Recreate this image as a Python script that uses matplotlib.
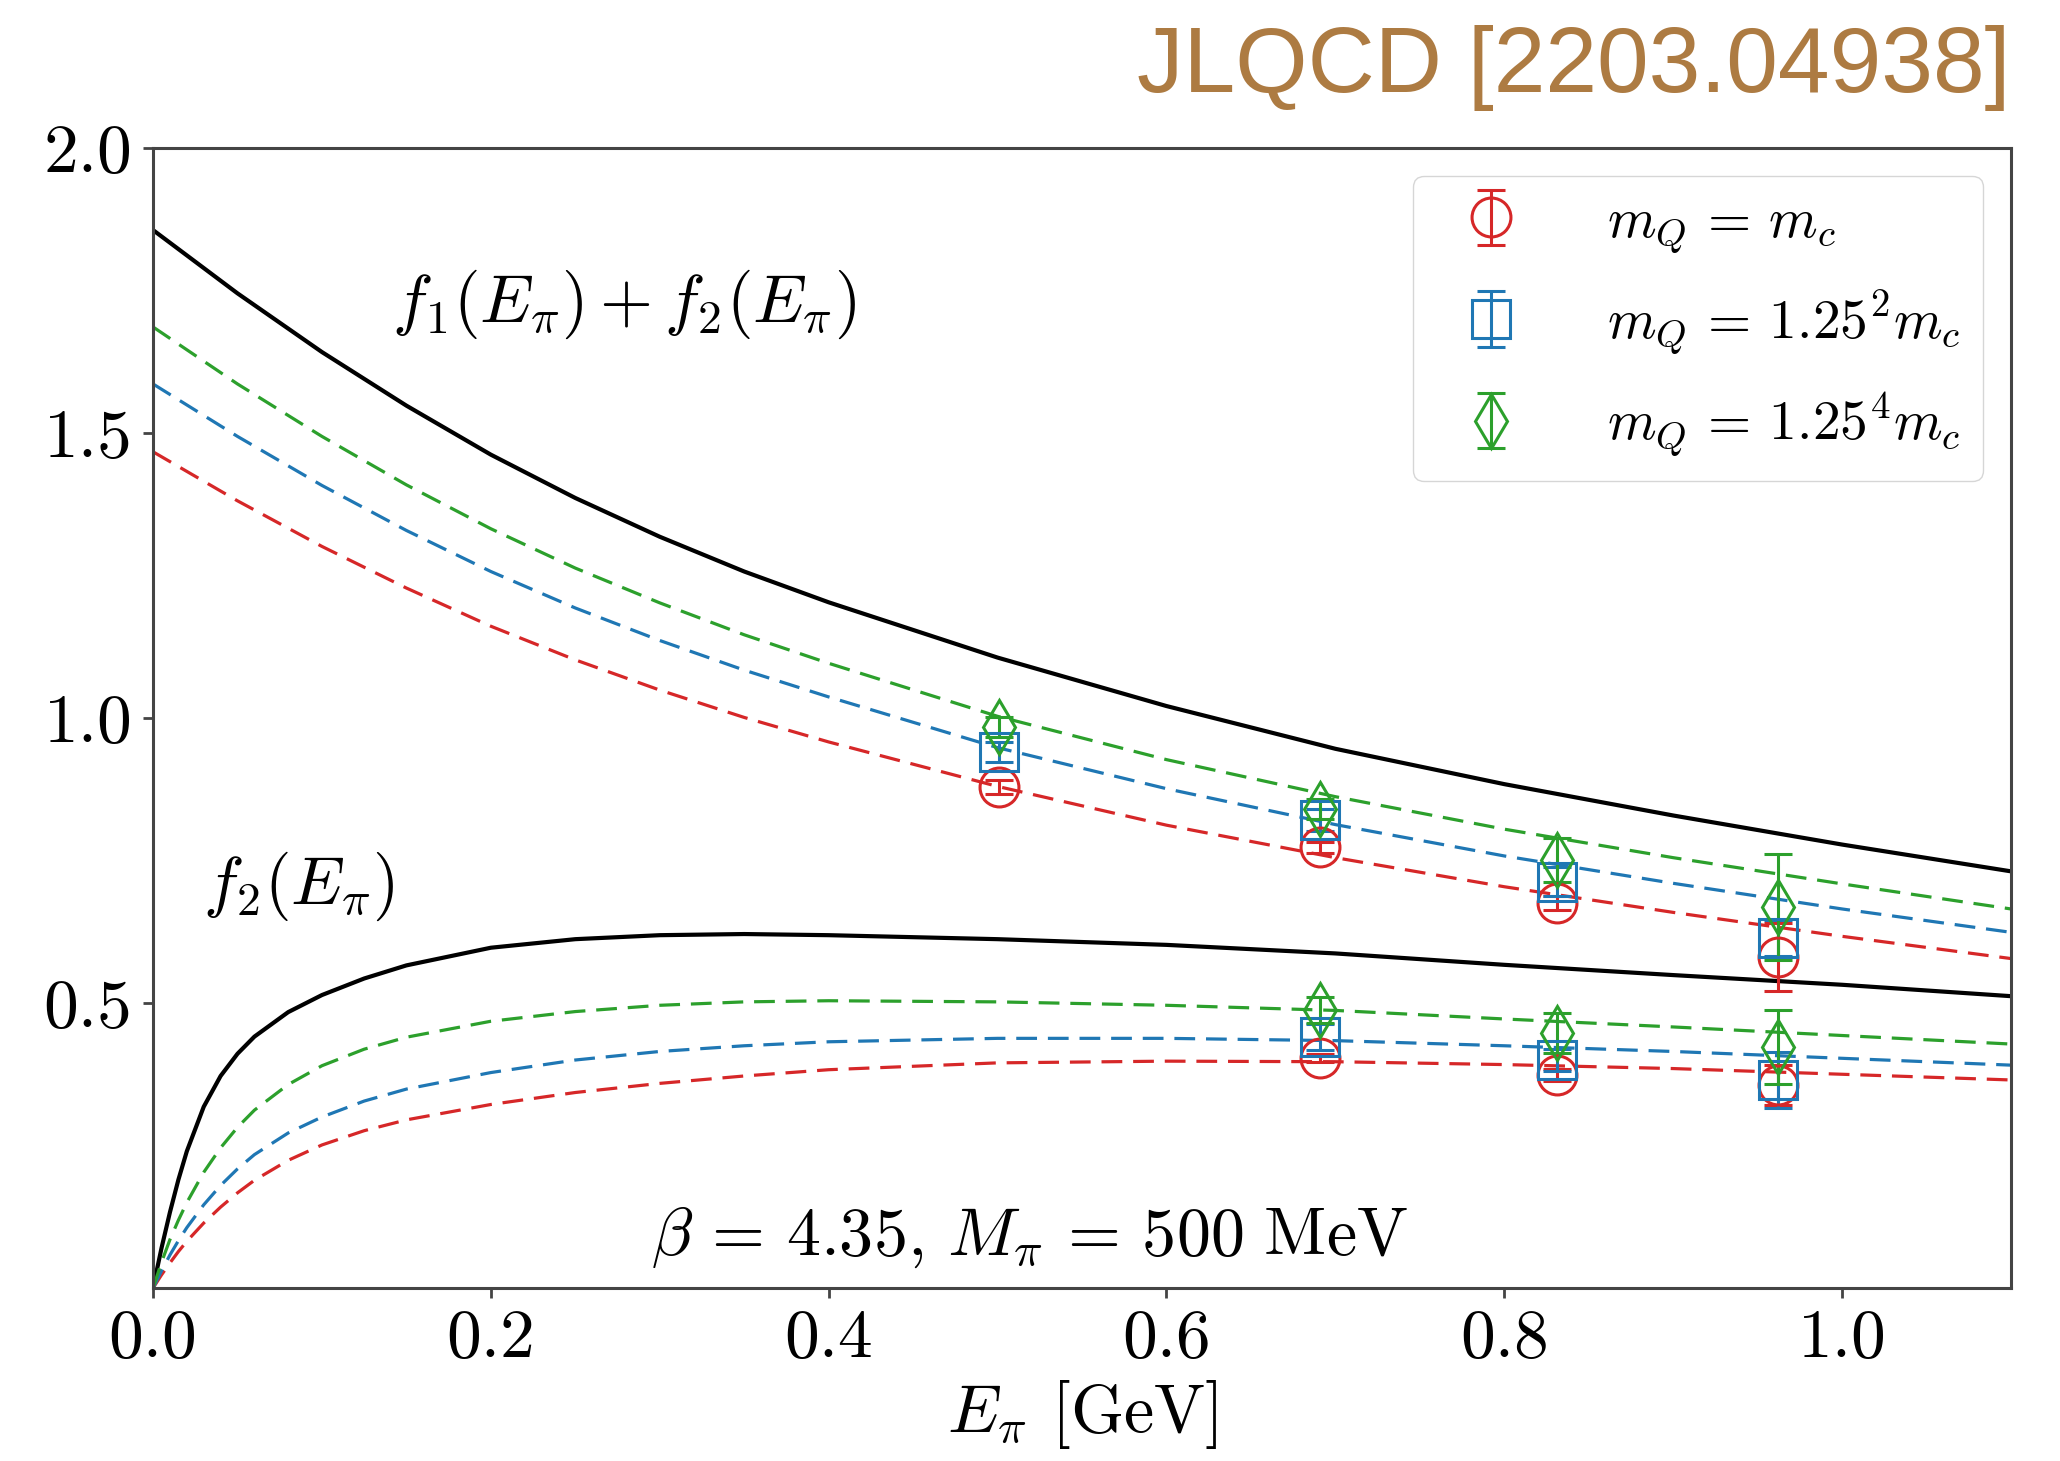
import numpy as np
import matplotlib as mpl
mpl.use('Agg')
import matplotlib.pyplot as plt

plt.rcParams['font.family'] = 'serif'
plt.rcParams['font.serif'] = ['cmr10']
plt.rcParams['mathtext.fontset'] = 'cm'
plt.rcParams['axes.unicode_minus'] = False
plt.rcParams['axes.formatter.use_mathtext'] = True

# fit curves, f1 + f2
E_hi = [0.0, 0.05, 0.1, 0.15, 0.2, 0.25, 0.3, 0.35, 0.4, 0.5, 0.6, 0.7, 0.8, 0.9, 1.0, 1.1]
sum_cont = [1.856, 1.745, 1.642, 1.548, 1.462, 1.386, 1.318, 1.257, 1.203, 1.106, 1.021, 0.946, 0.884, 0.829, 0.778, 0.731]
sum_red = [1.467, 1.381, 1.301, 1.228, 1.161, 1.102, 1.049, 1.001, 0.958, 0.880, 0.812, 0.755, 0.704, 0.659, 0.617, 0.578]
sum_blue = [1.586, 1.494, 1.408, 1.329, 1.257, 1.193, 1.136, 1.084, 1.037, 0.948, 0.876, 0.813, 0.758, 0.710, 0.665, 0.624]
sum_green = [1.686, 1.586, 1.494, 1.409, 1.332, 1.263, 1.202, 1.146, 1.096, 1.003, 0.927, 0.862, 0.805, 0.755, 0.709, 0.665]

# fit curves, f2
E_lo = [0.0, 0.005, 0.01, 0.015, 0.02, 0.03, 0.04, 0.05, 0.06, 0.08, 0.1, 0.125, 0.15, 0.2, 0.25, 0.3, 0.35, 0.4, 0.5, 0.6, 0.7, 0.8, 0.9, 1.0, 1.1]
f2_cont = [0.0, 0.070, 0.133, 0.190, 0.240, 0.318, 0.372, 0.411, 0.441, 0.484, 0.514, 0.543, 0.566, 0.597, 0.612, 0.619, 0.621, 0.619, 0.612, 0.602, 0.587, 0.567, 0.549, 0.532, 0.512]
f2_red = [0.0, 0.023, 0.044, 0.064, 0.082, 0.114, 0.142, 0.167, 0.189, 0.224, 0.251, 0.276, 0.295, 0.322, 0.343, 0.359, 0.372, 0.383, 0.395, 0.398, 0.397, 0.392, 0.385, 0.375, 0.365]
f2_blue = [0.0, 0.030, 0.058, 0.083, 0.106, 0.146, 0.180, 0.209, 0.234, 0.272, 0.300, 0.328, 0.349, 0.378, 0.400, 0.415, 0.425, 0.432, 0.438, 0.438, 0.434, 0.425, 0.415, 0.403, 0.391]
f2_green = [0.0, 0.045, 0.085, 0.119, 0.150, 0.203, 0.246, 0.282, 0.312, 0.357, 0.390, 0.419, 0.440, 0.468, 0.485, 0.496, 0.502, 0.504, 0.502, 0.496, 0.487, 0.472, 0.458, 0.443, 0.428]

# lattice data
E_sum = [0.501, 0.691, 0.831, 0.962]
sum_pts_red = [0.879, 0.773, 0.675, 0.581]
sum_err_red = [0.012, 0.010, 0.012, 0.060]
sum_pts_blue = [0.940, 0.821, 0.713, 0.614]
sum_err_blue = [0.018, 0.019, 0.025, 0.032]
sum_pts_green = [0.984, 0.840, 0.751, 0.668]
sum_err_green = [0.018, 0.018, 0.039, 0.093]

E_f2 = [0.691, 0.831, 0.962]
f2_pts_red = [0.404, 0.374, 0.356]
f2_err_red = [0.007, 0.010, 0.035]
f2_pts_blue = [0.441, 0.400, 0.365]
f2_err_blue = [0.023, 0.020, 0.049]
f2_pts_green = [0.488, 0.447, 0.423]
f2_err_green = [0.023, 0.035, 0.065]

labels = [r'$m_Q \,=\, m_c$', r'$m_Q \,=\, 1.25^2 m_c$', r'$m_Q \,=\, 1.25^4 m_c$']
colors = ['#d62728', '#1f77b4', '#2ca02c']
markers = ['o', 's', 'd']

fig = plt.figure(figsize=(20.6, 14.61), dpi=100)
ax = fig.add_axes([0.0743, 0.1184, 0.9019, 0.7803])

ax.plot(E_hi, sum_cont, color='black', lw=3.0)
ax.plot(E_lo, f2_cont, color='black', lw=3.0)

sum_fits = [sum_red, sum_blue, sum_green]
f2_fits = [f2_red, f2_blue, f2_green]
for i in range(3):
	ax.plot(E_hi, sum_fits[i], color=colors[i], lw=2.3, dashes=(6.5, 3.4))
	ax.plot(E_lo, f2_fits[i], color=colors[i], lw=2.3, dashes=(6.5, 3.4))

sum_pts = [sum_pts_red, sum_pts_blue, sum_pts_green]
sum_errs = [sum_err_red, sum_err_blue, sum_err_green]
f2_pts = [f2_pts_red, f2_pts_blue, f2_pts_green]
f2_errs = [f2_err_red, f2_err_blue, f2_err_green]
for i in range(3):
	kw = dict(fmt=markers[i], color=colors[i], mfc='none', mec=colors[i], ms=28, mew=2.2,
			  elinewidth=2.2, capsize=10, capthick=2.2)
	ax.errorbar(E_sum, sum_pts[i], yerr=sum_errs[i], label=labels[i], **kw)
	ax.errorbar(E_f2, f2_pts[i], yerr=f2_errs[i], **kw)

ax.text(0.279, 1.726, r'$f_1(E_\pi) + f_2(E_\pi)$', fontsize=49, ha='center', va='center')
ax.text(0.086, 0.704, r'$f_2(E_\pi)$', fontsize=49, ha='center', va='center')
ax.text(0.519, 0.088, r'$\beta \,=\, 4.35,\, M_\pi \,=\, 500\ \mathrm{MeV}$', fontsize=49,
		ha='center', va='center')

ax.set_xlim(0, 1.1)
ax.set_ylim(0, 2.0)
ax.set_xticks([0.0, 0.2, 0.4, 0.6, 0.8, 1.0])
ax.set_yticks([0.5, 1.0, 1.5, 2.0])
ax.xaxis.set_major_formatter(mpl.ticker.FormatStrFormatter('%.1f'))
ax.yaxis.set_major_formatter(mpl.ticker.FormatStrFormatter('%.1f'))
ax.tick_params(labelsize=50, length=7, width=2, color='#444444', pad=8)
for s in ax.spines.values():
	s.set_color('#444444')
	s.set_linewidth(2.2)
ax.set_xlabel(r'$E_\pi$ [GeV]', fontsize=49, labelpad=6)

ax.legend(loc='upper right', fontsize=40, handletextpad=1.1, labelspacing=0.6)

fig.text(0.9757, 0.937, 'JLQCD [2203.04938]', ha='right', va='baseline', fontsize=67,
		 family='Liberation Sans', color='#AD7B42')

plt.savefig('out.png', dpi=100)
